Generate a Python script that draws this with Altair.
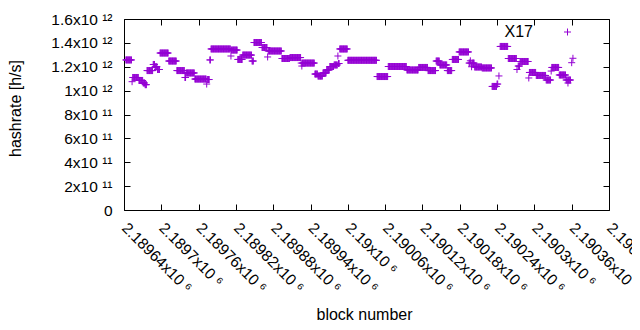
import altair as alt
import pandas as pd

# Runs of consecutive blocks sharing the same hashrate estimate
run_start = [2189643, 2189653, 2189654, 2189664, 2189671, 2189674, 2189677, 2189687, 2189690, 2189694,
             2189698, 2189712, 2189725, 2189738, 2189740, 2189754, 2189773, 2189774, 2189778, 2189780,
             2189812, 2189813, 2189823, 2189831, 2189846, 2189849, 2189862, 2189871, 2189872, 2189894,
             2189907, 2189925, 2189926, 2189927, 2189947, 2189952, 2189960, 2189966, 2189971, 2189978,
             2189984, 2189985, 2189987, 2190000, 2190047, 2190065, 2190095, 2190114, 2190129, 2190142,
             2190148, 2190160, 2190168, 2190179, 2190195, 2190197, 2190198, 2190199, 2190200, 2190204,
             2190216, 2190232, 2190240, 2190243, 2190245, 2190258, 2190272, 2190274, 2190277, 2190291,
             2190292, 2190303, 2190319, 2190327, 2190328, 2190340, 2190351, 2190354, 2190355, 2190360,
             2190362]
run_end = [2189652, 2189653, 2189663, 2189670, 2189673, 2189676, 2189686, 2189689, 2189693, 2189697,
           2189711, 2189724, 2189737, 2189739, 2189753, 2189772, 2189773, 2189777, 2189779, 2189811,
           2189812, 2189822, 2189830, 2189845, 2189848, 2189861, 2189870, 2189871, 2189893, 2189906,
           2189924, 2189925, 2189926, 2189946, 2189951, 2189959, 2189965, 2189970, 2189977, 2189983,
           2189984, 2189986, 2189999, 2190046, 2190064, 2190094, 2190113, 2190128, 2190141, 2190147,
           2190159, 2190167, 2190178, 2190194, 2190196, 2190197, 2190198, 2190199, 2190203, 2190215,
           2190231, 2190239, 2190241, 2190243, 2190257, 2190271, 2190272, 2190276, 2190290, 2190291,
           2190302, 2190318, 2190326, 2190327, 2190339, 2190350, 2190353, 2190354, 2190358, 2190360,
           2190362]
run_value = [1.257e12, 1.075e12, 1.110e12, 1.085e12, 1.064e12, 1.050e12, 1.168e12, 1.219e12, 1.200e12, 1.177e12,
             1.315e12, 1.248e12, 1.168e12, 1.110e12, 1.148e12, 1.097e12, 1.055e12, 1.093e12, 1.257e12, 1.349e12,
             1.290e12, 1.340e12, 1.261e12, 1.298e12, 1.248e12, 1.403e12, 1.361e12, 1.282e12, 1.332e12, 1.269e12,
             1.277e12, 1.231e12, 1.206e12, 1.231e12, 1.139e12, 1.122e12, 1.148e12, 1.173e12, 1.202e12, 1.215e12,
             1.290e12, 1.227e12, 1.349e12, 1.254e12, 1.118e12, 1.202e12, 1.173e12, 1.194e12, 1.168e12, 1.248e12,
             1.215e12, 1.168e12, 1.261e12, 1.324e12, 1.231e12, 1.250e12, 1.231e12, 1.200e12, 1.231e12, 1.198e12,
             1.190e12, 1.035e12, 1.055e12, 1.123e12, 1.370e12, 1.269e12, 1.177e12, 1.206e12, 1.244e12, 1.106e12,
             1.152e12, 1.127e12, 1.089e12, 1.164e12, 1.194e12, 1.131e12, 1.089e12, 1.064e12, 1.089e12, 1.234e12,
             1.271e12]

series_name = "X17"
x_ticks = [2189640, 2189700, 2189760, 2189820, 2189880, 2189940, 2190000, 2190060,
           2190120, 2190180, 2190240, 2190300, 2190360, 2190420]
y_ticks = [0, 2e11, 4e11, 6e11, 8e11, 1e12, 1.2e12, 1.4e12, 1.6e12]

blocks, rates = [], []
for s, e, v in zip(run_start, run_end, run_value):
    for b in range(s, e + 1):
        blocks.append(b)
        rates.append(v)
df = pd.DataFrame({"block": blocks, "hashrate": rates})
frame_df = pd.DataFrame({"block": [x_ticks[0], x_ticks[-1]], "hashrate": [y_ticks[0], y_ticks[-1]]})
key_df = pd.DataFrame({"series": [series_name]})

PLUS = "M-1,0H1M0,-1V1"
FONT = "Liberation Sans"
PURPLE = "#9400D3"

xscale = alt.Scale(domain=[x_ticks[0], x_ticks[-1]], nice=False, zero=False)
yscale = alt.Scale(domain=[y_ticks[0], y_ticks[-1]], nice=False, zero=False)

x_label_expr = "format(datum.value / 1e6, '.6~g') + 'x10 ⁶'"
y_label_expr = ("datum.value == 0 ? '0' : (datum.value < 1e12 ? "
                "format(datum.value / 1e11, '.2~g') + 'x10 ¹¹' : "
                "format(datum.value / 1e12, '.2~g') + 'x10 ¹²')")

points = alt.Chart(df).mark_point(
    shape=PLUS, filled=False, size=49, strokeWidth=1, opacity=1, color=PURPLE
).encode(
    x=alt.X("block:Q", scale=xscale,
            axis=alt.Axis(orient="bottom", values=x_ticks, offset=-6, tickSize=6, domain=False,
                          grid=False, labelAngle=45, labelAlign="left", labelBaseline="middle",
                          labelPadding=15, labelExpr=x_label_expr,
                          labelOverlap=False, labelFlush=False,
                          title="block number", titleX=240, titleY=115,
                          titleAlign="center", titleBaseline="alphabetic")),
    y=alt.Y("hashrate:Q", scale=yscale,
            axis=alt.Axis(orient="left", values=y_ticks, offset=-6, tickSize=6, domain=False,
                          grid=False, labelPadding=12, labelExpr=y_label_expr,
                          labelOverlap=False, labelFlush=False, labelBaseline="middle",
                          title="hashrate [h/s]", titleX=-115, titleY=89, titleAngle=-90,
                          titleAlign="center", titleBaseline="middle")),
)

mirror = alt.Chart(frame_df).mark_point(opacity=0).encode(
    x=alt.X("block:Q", scale=xscale,
            axis=alt.Axis(orient="top", values=x_ticks, offset=-6, tickSize=6, domain=False,
                          grid=False, labels=False, title=None)),
    y=alt.Y("hashrate:Q", scale=yscale,
            axis=alt.Axis(orient="right", values=y_ticks, offset=-6, tickSize=6, domain=False,
                          grid=False, labels=False, title=None)),
)

key_text = alt.Chart(key_df).mark_text(
    align="right", baseline="middle", font=FONT, fontSize=16, color="black"
).encode(text="series:N", x=alt.value(409), y=alt.value(13))

key_symbol = alt.Chart(key_df).mark_point(
    shape=PLUS, filled=False, size=49, strokeWidth=1, opacity=1, color=PURPLE
).encode(x=alt.value(443.5), y=alt.value(13))

chart = alt.layer(points, mirror, key_text, key_symbol).resolve_axis(
    x="independent", y="independent"
).properties(
    width=485, height=191,
    autosize=alt.AutoSizeParams(type="none"),
    padding={"left": 116, "top": 11, "right": 23, "bottom": 112},
).configure_view(stroke="black", strokeWidth=1).configure_axis(
    labelFont=FONT, labelFontSize=15.5, labelColor="black", tickColor="black", tickWidth=1,
    titleFont=FONT, titleFontSize=16, titleColor="black", titleFontWeight="normal"
)

chart.save("out.html", embed_options={"renderer": "svg", "actions": False})
